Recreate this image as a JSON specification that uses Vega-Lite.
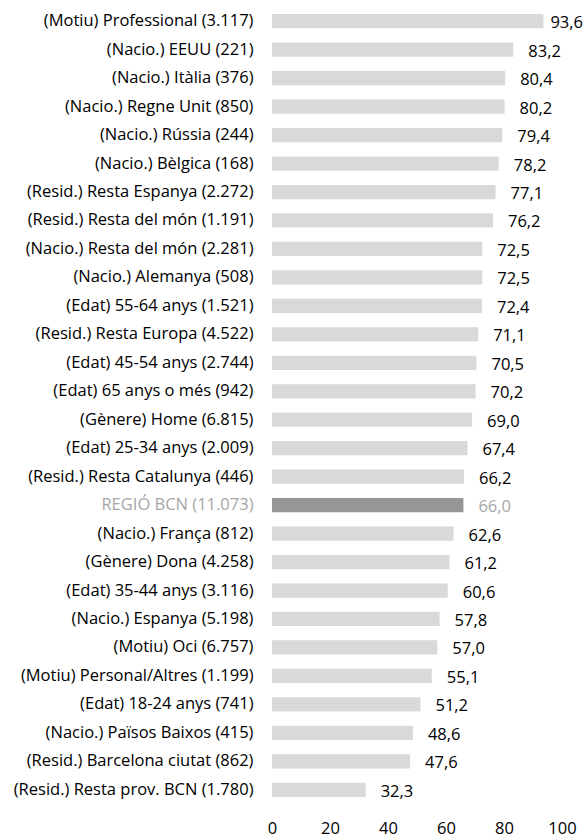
{
  "$schema": "https://vega.github.io/schema/vega-lite/v6.json",
  "autosize": "none",
  "width": 290,
  "height": 797,
  "padding": {"left": 272, "top": 7, "right": 23, "bottom": 34},
  "background": "white",
  "config": {
    "view": {"stroke": null},
    "locale": {"number": {"decimal": ",", "thousands": ".", "grouping": [3], "currency": ["", " €"]}},
    "font": "Open Sans"
  },
  "data": {
    "values": [
      {"cat": "(Motiu) Professional (3.117)", "val": 93.6},
      {"cat": "(Nacio.) EEUU (221)", "val": 83.2},
      {"cat": "(Nacio.) Itàlia (376)", "val": 80.4},
      {"cat": "(Nacio.) Regne Unit (850)", "val": 80.2},
      {"cat": "(Nacio.) Rússia (244)", "val": 79.4},
      {"cat": "(Nacio.) Bèlgica (168)", "val": 78.2},
      {"cat": "(Resid.) Resta Espanya (2.272)", "val": 77.1},
      {"cat": "(Resid.) Resta del món (1.191)", "val": 76.2},
      {"cat": "(Nacio.) Resta del món (2.281)", "val": 72.5},
      {"cat": "(Nacio.) Alemanya (508)", "val": 72.5},
      {"cat": "(Edat) 55-64 anys (1.521)", "val": 72.4},
      {"cat": "(Resid.) Resta Europa (4.522)", "val": 71.1},
      {"cat": "(Edat) 45-54 anys (2.744)", "val": 70.5},
      {"cat": "(Edat) 65 anys o més (942)", "val": 70.2},
      {"cat": "(Gènere) Home (6.815)", "val": 69.0},
      {"cat": "(Edat) 25-34 anys (2.009)", "val": 67.4},
      {"cat": "(Resid.) Resta Catalunya (446)", "val": 66.2},
      {"cat": "REGIÓ BCN (11.073)", "val": 66.0},
      {"cat": "(Nacio.) França (812)", "val": 62.6},
      {"cat": "(Gènere) Dona (4.258)", "val": 61.2},
      {"cat": "(Edat) 35-44 anys (3.116)", "val": 60.6},
      {"cat": "(Nacio.) Espanya (5.198)", "val": 57.8},
      {"cat": "(Motiu) Oci (6.757)", "val": 57.0},
      {"cat": "(Motiu) Personal/Altres (1.199)", "val": 55.1},
      {"cat": "(Edat) 18-24 anys (741)", "val": 51.2},
      {"cat": "(Nacio.) Països Baixos (415)", "val": 48.6},
      {"cat": "(Resid.) Barcelona ciutat (862)", "val": 47.6},
      {"cat": "(Resid.) Resta prov. BCN (1.780)", "val": 32.3}
    ]
  },
  "encoding": {
    "y": {
      "field": "cat", "type": "nominal", "sort": null,
      "scale": {"paddingInner": 0.5, "paddingOuter": 0.25},
      "axis": {
        "title": null, "domain": false, "ticks": false, "labelPadding": 19,
        "labelFontSize": 16.5, "labelFont": "Open Sans", "labelLimit": 300,
        "labelColor": {"expr": "datum.value === 'REGIÓ BCN (11.073)' ? '#a6a6a6' : '#000000'"}
      }
    },
    "x": {
      "field": "val", "type": "quantitative",
      "scale": {"domain": [0, 100], "nice": false},
      "axis": {
        "title": null, "domain": false, "ticks": false, "grid": false,
        "values": [0, 20, 40, 60, 80, 100], "labelPadding": 16,
        "labelFontSize": 16.5, "labelFont": "Open Sans", "labelColor": "#000000",
        "labelFlush": false, "format": "d"
      }
    }
  },
  "layer": [
    {
      "mark": {"type": "bar"},
      "encoding": {
        "color": {
          "condition": {"test": "datum.cat === 'REGIÓ BCN (11.073)'", "value": "#969696"},
          "value": "#d9d9d9"
        }
      }
    },
    {
      "transform": [{"filter": "datum.val < 90"}],
      "mark": {"type": "text", "align": "left", "baseline": "middle", "dx": 15, "dy": 2, "fontSize": 16.5, "font": "Open Sans"},
      "encoding": {
        "text": {"field": "val", "type": "quantitative", "format": ".1f"},
        "color": {
          "condition": {"test": "datum.cat === 'REGIÓ BCN (11.073)'", "value": "#a6a6a6"},
          "value": "#000000"
        }
      }
    },
    {
      "transform": [{"filter": "datum.val >= 90"}],
      "mark": {"type": "text", "align": "left", "baseline": "middle", "dx": 7, "dy": 2, "fontSize": 16.5, "font": "Open Sans", "color": "#000000"},
      "encoding": {
        "text": {"field": "val", "type": "quantitative", "format": ".1f"}
      }
    }
  ]
}
